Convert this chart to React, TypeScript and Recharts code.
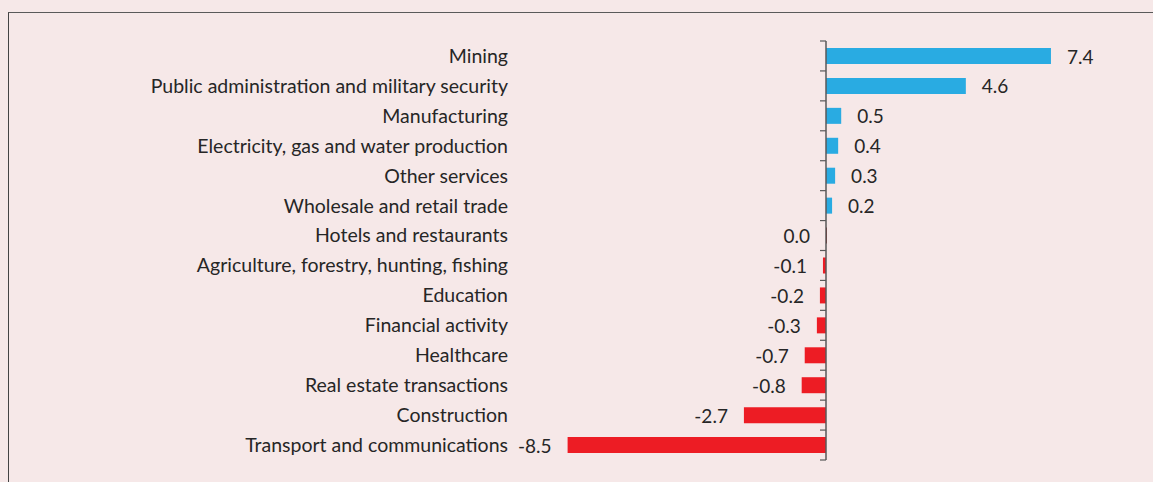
import React from 'react';
import { BarChart, Bar, XAxis, YAxis, Cell, LabelList, ReferenceLine } from 'recharts';

const categories = [
  'Mining',
  'Public administration and military security',
  'Manufacturing',
  'Electricity, gas and water production',
  'Other services',
  'Wholesale and retail trade',
  'Hotels and restaurants',
  'Agriculture, forestry, hunting, fishing',
  'Education',
  'Financial activity',
  'Healthcare',
  'Real estate transactions',
  'Construction',
  'Transport and communications',
];

const values = [7.4, 4.6, 0.5, 0.4, 0.3, 0.2, 0.0, -0.1, -0.2, -0.3, -0.7, -0.8, -2.7, -8.5];

const data = categories.map((name, i) => ({ name, value: values[i] }));

const FONT = 'Lato, "Noto Sans", sans-serif';
const TEXT = '#262626';
const BLUE = '#29abe2';
const RED = '#ed1c24';

const ValueLabel = (props: any) => {
  const { x, y, width, height, value } = props;
  const left = Math.min(x, x + width);
  const right = Math.max(x, x + width);
  const cy = y + height / 2;
  const pos = value > 0;
  return (
    <text
      x={pos ? right + 16 : left - 16}
      y={cy}
      textAnchor={pos ? 'start' : 'end'}
      dominantBaseline="central"
      fontFamily={FONT}
      fontSize={19}
      fill={TEXT}
    >
      {Number(value).toFixed(1)}
    </text>
  );
};

// zero axis with tick marks between categories
const ZeroAxis = (props: any) => {
  const { x1, y1, y2 } = props;
  const n = categories.length;
  const step = (y2 - y1) / n;
  const ticks = [];
  for (let i = 0; i <= n; i++) {
    const ty = y1 + i * step;
    ticks.push(<line key={i} x1={x1 - 6} x2={x1} y1={ty} y2={ty} stroke="#595959" strokeWidth={1.2} />);
  }
  return (
    <g>
      <line x1={x1} x2={x1} y1={y1} y2={y2} stroke="#595959" strokeWidth={1.5} />
      {ticks}
    </g>
  );
};

export default function App() {
  return (
    <div
      style={{
        position: 'fixed',
        left: 0,
        top: 0,
        width: 1153,
        height: 482,
        background: '#f6e8e8',
        overflow: 'hidden',
      }}
    >
      <div
        style={{
          position: 'absolute',
          left: 8,
          top: 12,
          width: 1200,
          height: 500,
          borderLeft: '1.5px solid #444',
          borderTop: '1.5px solid #5a5a5a',
        }}
      />
      <div style={{ position: 'absolute', left: 0, top: 0 }}>
        <BarChart
          width={1153}
          height={482}
          data={data}
          layout="vertical"
          margin={{ top: 41, right: 23, bottom: 22, left: 0 }}
          barSize={16}
        >
          <XAxis type="number" domain={[-10, 10]} hide />
          <YAxis
            type="category"
            dataKey="name"
            width={522}
            axisLine={false}
            tickLine={false}
            tickSize={0}
            tickMargin={14}
            interval={0}
            tick={{ fontFamily: FONT, fontSize: 19.5, fill: TEXT }}
          />
          <Bar
            dataKey="value"
            isAnimationActive={false}
            minPointSize={(v: number) => (v === 0 ? 1 : 0)}
          >
            {data.map((d, i) => (
              <Cell key={i} fill={d.value > 0 ? BLUE : d.value === 0 ? '#8b1a1a' : RED} />
            ))}
            <LabelList dataKey="value" content={ValueLabel} />
          </Bar>
          <ReferenceLine x={0} shape={ZeroAxis} />
        </BarChart>
      </div>
    </div>
  );
}
